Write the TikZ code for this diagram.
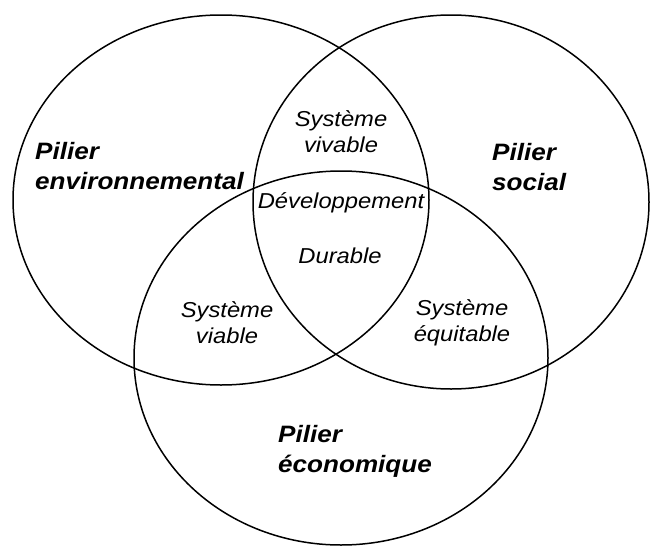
\documentclass[tikz,border=0pt]{standalone}
\usepackage{fontspec}
\setmainfont{Liberation Sans}
\begin{document}
\begin{tikzpicture}[x=1pt,y=-1pt,
  ring/.style={draw=black,line width=1.5pt},
  pilier/.style={inner sep=0pt,align=left,xscale=1.1,font=\fontsize{23.7}{30}\selectfont\bfseries\itshape},
  zone/.style={inner sep=0pt,align=center,xscale=1.1,font=\fontsize{21.6}{26}\selectfont\itshape}]
\useasboundingbox (0,0) rectangle (650,546);
\draw[ring] (221,200) ellipse [x radius=208, y radius=185];
\draw[ring] (451,202) ellipse [x radius=198, y radius=187];
\draw[ring] (341,358) ellipse [x radius=207, y radius=187];
\node[pilier,anchor=west] (env) at (35,166) {Pilier\\environnemental};
\node[pilier,anchor=west] (soc) at (492,167) {Pilier\\social};
\node[pilier,anchor=west] (eco) at (278,451) {Pilier\\économique};
\node[zone] (viv) at (341,132) {Système\\vivable};
\node[zone] (via) at (227,323) {Système\\viable};
\node[zone] (equ) at (462,323) {Système\\équitable};
\node[zone] (dev) at (341,203) {Développement};
\node[zone] (dur) at (340,256) {Durable};
\end{tikzpicture}
\end{document}
